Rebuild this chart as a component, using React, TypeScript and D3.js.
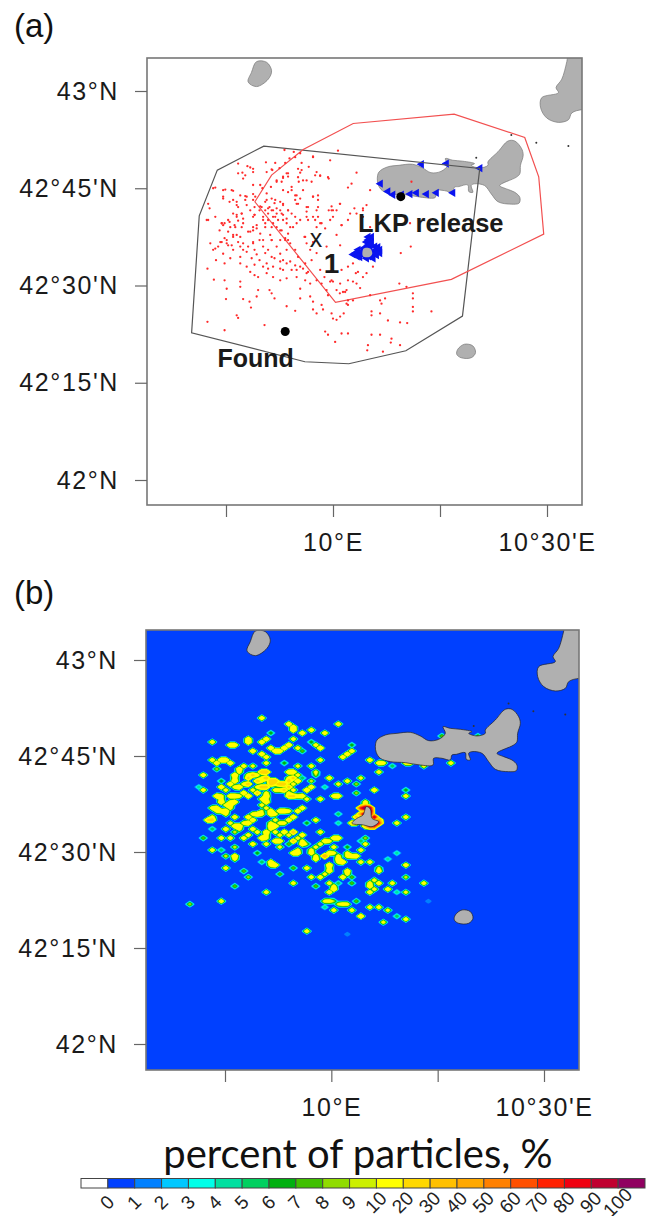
import React, { useEffect, useRef } from 'react';
import * as d3 from 'd3';

// everything geographic is in arc minutes: lon from 10°E, lat from 42°N
const lonTicks = [-15, 0, 15, 30];
const lonLabels = ['', '10°E', '', "10°30'E"];
const latTicks = [0, 15, 30, 45, 60];
const latLabels = ['42°N', "42°15'N", "42°30'N", "42°45'N", '43°N'];

const elba = [[6.21,46.46],[6.44,47.5],[7.62,48.28],[9.26,48.54],[11.14,48.7],[12.55,48.13],[13.73,47.4],[15.14,47.6],[16.08,48.54],[15.75,49.58],[16.78,49.32],[18.2,49.17],[19.84,48.8],[19.37,48.54],[20.55,48.13],[21.72,48.54],[21.72,49.06],[23.13,50.63],[24.54,52.29],[25.48,52.29],[26.42,51.15],[26.66,50.1],[26.28,48.54],[26.19,47.24],[25.72,46.72],[23.37,45.42],[24.31,44.9],[25.48,44.38],[26.19,43.59],[26.09,42.71],[25.01,42.55],[23.13,42.92],[22.19,44.12],[21.25,45.42],[19.84,45.68],[19.37,45.42],[19.61,44.38],[19.04,44.48],[18.9,45.52],[17.63,45.26],[17.02,45.16],[16.78,44.38],[15.61,44.64],[14.43,44.64],[14.34,43.59],[12.55,43.59],[10.44,43.96],[8.32,44.12],[6.91,44.64],[6.35,45.52]];
const capraia = [[-10.72,64.53],[-9.31,64.43],[-8.61,63.13],[-9.08,61.82],[-10.72,60.68],[-11.9,61.41],[-11.43,62.87]];
const mainland = [[33.2,67],[32.78,64.53],[32.07,61.82],[31.27,60.52],[31.6,59.74],[29.25,58.96],[29.11,57.4],[29.96,55.84],[31.6,55.16],[33.01,55.57],[33.48,56.62],[35.04,57.14],[37,57],[37,67]];
const pianosa = [[17.49,20.16],[18.43,20.94],[19.61,20.68],[19.98,19.64],[19.38,18.86],[17.96,18.86],[17.35,19.38]];
const pianosaNorth = [[4.94,37.09],[5.5,36.72],[5.74,35.26],[6.68,34.74],[5.74,33.96],[4.56,34.22],[2.91,34.48],[3.62,35.26],[4.47,35.79]];
const lkpRock = [[4.3,35.7],[5.2,35.7],[5.5,34.9],[5.1,34.4],[4.2,34.5]];
const islands = [elba, capraia, mainland, pianosa];
const rocks = [[25,53.2],[28.5,52],[33,51.5],[20.08,49.7]];

const blackHull = [[-9.69,51.5],[-16.22,47.8],[-18.75,40.75],[-19.82,22.71],[-3.94,18.24],[2.22,17.93],[10.21,19.94],[18.15,25.28],[20.57,48.05]];
const redHull = [[-10.95,42.91],[-8.61,47.02],[-4.18,50.98],[2.83,54.99],[16.98,56.43],[26.88,52.83],[28.84,46.77],[29.54,37.93],[16.6,30.94],[0.35,27.39]];

const lkp = [9.5, 43.7];
const found = [-6.7, 22.9];

const particles = [
[-13.3,48.8],[-12,48.4],[-11.2,48],[-13.3,47.3],[-12.3,47],[-11.2,45.5],[-9.4,49],[-8.5,47.8],[-7.5,48.1],[-6.8,50.9],[-5.3,49.8],[-4.6,50.4],[-2.8,49.9],[-.4,49.3],[.7,50.8],[-4.4,48.9],[-3.4,48.3],[-1.8,47],[-.6,46.5],[-4.6,47.4],[-6.3,47.3],[-7.9,46],[-7,46.6],[-5.8,45.2],[-4.8,46],[-3.7,46.2],[3.3,47.4],[2.6,45.7],[2.1,45.1],[5.2,44.7],[-15.4,44.7],[-14.2,44.7],[-16.5,45.1],[-13,43.9],[-12.1,43.7],[-13.5,42.4],[-17.5,42.6],[-17.3,41.9],[-15.4,43.7],[-14.5,42.9],[-10.2,45.5],[-10.9,43.7],[-9.3,44.2],[-8.6,43.4],[-7,44.7],[-5.3,43.9],[-4.9,42.6],[-2.8,43.7],[-2.1,43.2],[-4.2,44.7],[-2.3,41.6],[-3.5,42.1],[1,42.6],[0,41.6],[-.6,41.6],[4.7,42.4],[4.2,41.6],[3.3,41.1],
[-17.6,24.4],[-15.2,23.1],[-9.6,23.9],[-13.5,25.4],[-13.3,25],[-15,27.9],[-12.6,27.9],[-11.7,27.5],[-11.5,26.6],[-8.2,28],[-6.5,26.8],[-5.3,26.1],[-4.6,28],[-3.2,28.3],[-2.8,27.5],[-2.8,26.3],[-1.6,27],[-1.4,26.3],[-2.3,25.7],[-.2,25.7],[0,24.9],[1,25.2],[1.5,25.7],[.5,24.7],[-1.1,22.9],[-.7,22.4],[1.2,22.6],[2.1,22.6],[.3,21.3],[4.9,20.8],[4.8,20],[5.4,22.4],[6.6,22.4],[8.2,21.8],[9.4,20.8],[7,19.8],[8.1,21.2],
[5.4,25.4],[5.4,26],[6.6,25.7],[7.7,24.6],[9.4,24.3],[10.4,24.2],[11.2,26],[11.2,26.7],[11.2,28],[11.2,28.8],[13.8,26],[6.8,27.2],[6.6,27.7],[7.3,28],[5.2,28.5],[2.8,27.7],[2.1,27.7],[1.9,27.2],[2.1,27],[10.3,29.8],[9.3,30.3],
[1.7,29],[1.9,29.3],[.96,28.8],[-.4,30.6],[0,30.6],[-1.6,30.3],[-.9,29.3],[-.7,28.5],[2.8,30.6],[3.3,30.3],[3.8,29.6],[4.2,31.3],[4.7,31.9],[3.2,31.9],[1.2,32.4],[2.1,32.9],[2.8,33.4],
[9.5,35],[10.9,36],[5.6,32.9],[1,36.2],[-.9,36],[-2.3,35],[-3.2,35.5],[-3,33.9],[-3.9,33.4],[-4.2,32.6],[-3.7,31.9],[-3.5,32.1],[-4.6,32.9],[-5.1,32.4],[-5.3,33.1],[-6,33.7],[-7,32.4],[-7.4,32.6],[-8.4,32.9],[-9.1,32.6],[-9.8,32.9],[-6.5,31.1],[-7.4,30.8],[-8.4,31.3],[-9.3,31.9],[-11,31.6],[-10.5,31.3],[-11.6,32.1],[-15.2,30.8],[-16.7,30.9],[-17.6,32.6],[-16.4,33.9],[-15.2,33.4],[-13,30.6],[-13,29.8],[-14.9,29.5],[-8.9,29.3],[-8.6,28.8],[-10.5,29.3],[-10.7,28.3],[-4.6,29.5],[-3.9,30.8],[-3.2,30.3],[-2.3,30.8],
[-16.8,35.5],[-16.1,36],[-15.6,36.7],[-14.9,36.5],[-15.2,37.3],[-14.2,36.2],[-13.5,37.8],[-13.3,36.7],[-13,36],[-12.6,35.5],[-13,34.4],[-12.1,35.2],[-11.4,34.2],[-11.9,36],[-11.2,36.5],[-11,35.5],[-10.3,37],[-9.8,36],[-9.5,35],[-9.1,35.5],[-8.6,34.4],[-7.9,36],[-7.4,34.9],[-7,33.9],[-6.5,35.5],[-8.6,37],[-7.4,37],[-6.7,37],[-6,36.5],[-5.3,35.5],[-4.9,34.4],[-3.7,36.5],[-11.2,38.5],[-10.7,39.3],[-11.9,38.3],[-12.8,39],[-13.3,40],[-12.6,40.3],[-13.8,39.3],[-14.5,39.8],[-15.2,39.6],[-15.6,39.6],[-15.9,38.5],[-14.7,38.3],[-14,37.5],[-9.5,39.6],[-9.1,40.1],[-8.4,40.6],[-7.7,40.1],[-7,40.9],[-6.5,40.3],[-5.8,41.1],[-8.6,39],[-7.9,39],[-7.2,38.5],[-6.3,38],[-6.5,39.6],[-5.6,39],[-4.6,40.1],[-3.7,40.6],[-2.5,40.1],[-2.3,39],[-3.9,37.5],[-2.8,36.7],[-9.8,40.6],[-10.3,41.6],[-11,40.9],[-11.6,41.6],[-12.1,42.4],[-12.8,41.1],[-13.5,40.9],[-14,41.1],[-13.3,42.1],[-8.9,42.1],[-8.2,42.7],[-7.4,41.6],[-7,42.4],[-6.3,41.6],[-9.5,42.9],[-10,42.1],[-8.4,41.6],[-9.1,41.1],[-7.9,41.1],[-17.5,40.1],[-16.5,40.6],
[1.2,39.3],[2.1,40.1],[-.4,40.1],[-1.6,39.6],[.5,37.8],[5.2,39],[10.8,39.6],[11,46],
[-12.7,47.4],[-11.6,48.2],[-11.2,47.5],[-12.6,46.5],[-9.3,47.5],[-8.6,47.9],[-8.1,48.9],[-6.7,48.9],[-6.1,49.6],[-5.5,50.6],[-2.8,49.8],[-4.9,48],[-4.4,47.8],[-2.3,47.5],[-2.5,47],[-1.8,46.9],[-.7,46.7],[-3,46],[-4.2,46.2],[-4.9,46.7],[-6.5,47.3],[-7,46.8],[-7.2,46],[-6.3,46.8],[-7.9,46.2],[-8.7,45.2],[-9.9,45],[-11.2,44.1],[-12.3,43.8],[-14,44.6],[-15.1,44.8],[-15.4,43.4],[-16.8,45],[-14,43.2],[-13.5,42.9],[-12.3,43.2],[-11.2,43.2],[-11,42.1],[-10.2,42.2],[-9.3,43.2],[-8.1,43.2],[-7.4,42.9],[-7,42.6],[-6.3,44.4],[-5.8,44.7],[-5.1,43.9],[-4.6,43.4],[-5.3,43.2],[-5.1,42.6],[-2.8,43.7],[-2.1,43.9],[-3.7,42.1],[-2.1,42.1],[-.2,42.2],[.96,42.6],[.5,41.6],[3,41.9],[4.2,41.9],
[-12.8,41.1],[-13.5,40.6],[-14.7,40.1],[-15.6,39.6],[-15.4,39.3],[-13.7,39],[-11.2,40.6],[-11,40.9],[-9.5,41.6],[-9.1,41.9],[-8.6,41.6],[-7.9,41.9],[-7.2,41.1],[-6.3,41.6],[-5.3,40.6],[-7,40.1],[-8.1,40.6],[-8.4,39.6],[-9.8,40.1],[-11.2,39],[-10.7,38.8],[-9.5,39],[-8.8,37.8],[-10.2,38],[-11.6,38.3],[-13,37.5],[-14,37.8],[-14.9,37],[-15.8,36.7],[-17.2,36.5],[-16.5,35.7],[-14.7,36.2],[-12.6,36.5],[-11.2,36.7],[-9.8,37],[-8.6,37],[-6.7,37.3],[-6.3,37],[-7.4,38.5],[-6,39],[-5.1,39.6],[-3.5,40.1],[-1.8,39.6],[0,40.6],[1.2,39.3],[2.4,41.1],[4.2,40.6],[-4,37.5],[-1.1,38.8],[-17.7,40.1],[-12.6,39.6],[-14.4,39],[-3.7,41.4],[-2.8,40.6],[-2.1,40.6],[-.2,41.6],
[-13,33.4],[-12.1,32.9],[-11,33.2],[-10.3,33.9],[-9.3,33.4],[-8.2,34.2],[-6.5,33.4],[-5.8,32.4],[-7.4,33.7],[-5.1,31.3],[-10.7,34.8],[-14.4,34.2],[-15.4,34.9],[-14,35.5],[-1.8,32.4],[-1.2,31.3],[1,30.3],[2.1,30.8],[1.4,29],[3.5,32.1],[-.2,30.8],[.5,29.3],
];

// stranded particles, drawn as small blue triangles
const stranded = [
[4.93,37.5],[5.4,37.5],[4.7,36.7],[5.4,36.7],[5.16,36],[5.86,36],[6.56,35.5],[6.1,34.7],[5.63,34.2],[4.7,34.2],[3.76,34.4],[2.83,34.8],[3.53,35.5],[4.23,35.7],[6.56,35],[4.93,37],[5.63,35.2],[4.4,34.6],[3.2,35],[4.9,36.2],[5.2,35.5],[4.5,35.2],[3.9,35],[5,34.5],[6,35.4],[5.5,34.6],[5.1,37.1],[5.3,36.4],[4.7,35.8],[4.1,35.2],[5.9,34.9],[6.3,35.9],[3.4,34.5],[4.9,34.8],
[6.65,45.7],[7.7,44.5],[8.4,44],[9.6,44],[10.8,44.1],[11.7,44.3],[13.1,44.1],[14.5,44.3],[16.8,44.3],[12.4,48.7],[15.9,48.8],[20.6,48.1],
];

// gridded percent field of panel b: [col, row, percent]
const gridCols = 100;
const gridRows = 110;
const gridLon0 = -26.95;
const gridLat0 = 65.47;
const gridDLon = 0.635;
const gridDLat = -0.469;
const cells = [
[27,31,16],[44,33,16],[33,33,18],[34,34,18],[34,35,20],[36,36,18],[38,35,16],[41,36,16],[29,36,7],[16,39,15],[20,40,18],[21,40,18],[24,38,18],[24,39,20],[27,39,18],[28,38,18],[34,38,14],[47,40,7],[45,44,16],[46,43,18],[47,42,16],[51,45,16],[53,46,16],[54,46,14],[40,45,14],[16,45,15],
[17,46,18],[18,45,20],[19,45,20],[20,46,18],[22,48,18],[23,47,15],[25,47,12],[28,46,14],[32,46,7],[35,47,12],[25,42,18],[27,43,18],[28,44,16],[29,41,18],[30,42,20],[31,42,18],[32,41,20],[33,40,20],[35,41,14],[36,42,8],[38,39,7],[39,40,14],[40,41,20],
[25,50,22],[27,49,28],[28,49,30],[28,51,26],[26,52,24],[24,51,22],[30,52,30],[31,53,28],[33,52,26],[34,49,20],[35,52,20],[33,49,18],[21,50,20],[21,52,20],[20,53,18],[18,54,18],[22,54,20],[24,53,24],[27,54,24],[28,54,24],[28,57,20],[28,59,20],[33,54,24],[33,57,20],[34,57,22],[36,57,18],[17,57,20],[18,59,20],[20,57,18],[21,57,18],[23,56,20],[24,57,20],[26,56,22],[29,52,30],[29,53,24],[32,53,26],[34,51,22],[32,55,22],[30,55,14],
[17,61,18],[19,62,20],[20,60,18],[21,59,18],[16,65,24],[15,65,20],[21,64,16],[24,64,18],[26,63,20],[29,62,20],[29,63,18],[31,62,18],[32,62,18],[36,61,18],[35,62,18],[34,64,20],[33,65,18],[30,67,20],[29,67,18],[28,69,20],[27,71,20],[22,67,20],[21,67,18],[24,66,20],[19,68,16],[21,69,10],[18,71,15],[14,71,8],[16,68,6],[23,71,15],[32,69,20],[34,69,28],[36,70,18],[30,69,14],[40,69,15],[37,66,7],[39,65,15],[44,63,6],[44,66,5],[25,65,18],[18,62,16],[16,61,14],[27,62,10],[25,68,16],[26,69,14],[24,70,15],[20,71,14],
[38,54,18],[37,55,20],[40,58,16],[44,57,18],[43,57,16],[48,53,9],[48,56,9],[52,55,18],[59,55,7],[59,57,14],[50,59,14],[46,52,14],[44,53,13],[42,51,16],[41,54,5],[49,51,12],[53,49,14],[38,47,14],[39,49,12],[39,50,8],[38,52,10],[36,51,6],[14,50,16],[17,48,9],[13,54,5],[14,55,14],[18,52,7],[57,66,14],[59,64,14],
[30,72,18],[31,72,18],[28,73,14],[25,73,16],[21,74,10],[31,74,12],[33,73,8],[34,72,22],[36,73,18],[37,73,8],[40,73,14],[41,72,18],[43,71,18],[44,71,18],[43,74,14],[46,74,7],[47,77,16],[48,77,18],[49,75,14],[50,73,14],[50,71,9],[49,72,6],[16,75,14],[18,75,6],[19,77,10],[21,77,20],[26,76,7],
[34,76,18],[35,76,18],[38,76,16],[39,78,18],[41,77,40],[42,76,18],[44,78,18],[45,79,20],[49,79,14],[51,79,14],[27,79,6],[29,79,18],[30,80,18],[34,81,8],[37,81,15],[42,80,20],[42,82,18],[19,81,14],[23,82,8],[24,84,9],[31,83,8],[40,84,16],[38,84,14],[46,82,18],[45,84,18],[47,84,8],[53,81,10],[55,78,5],[57,76,5],[59,80,16],[53,82,16],
[34,86,14],[21,87,8],[28,89,14],[18,92,14],[11,93,9],[42,86,14],[44,86,6],[39,87,8],[43,88,20],[42,89,16],[47,86,8],[51,86,14],[53,86,16],[51,87,18],[51,89,16],[56,86,14],[55,88,16],[59,84,10],[63,86,14],[57,89,5],[59,89,12],
[41,92,12],[43,92,8],[44,93,10],[46,93,12],[48,92,8],[41,94,5],[43,95,14],[47,95,14],[51,94,14],[53,94,14],[55,95,12],[57,97,6],[59,98,14],[54,99,12],[49,97,20],[37,102,14],[64,92,2],[46,103,2],
[60,46,14],[59,46,14],[63,47,12],[69,46,14],[56,47,6],[67,37,8],[75,37,7],
[50,60,16],[49,61,70],[50,61,110],[51,61,90],[51,62,110],[51,63,90],[52,64,90],[53,65,40],[53,66,70],[52,66,110],[52,67,70],[51,67,70],[50,67,22],[50,65,110],[49,63,40],[48,64,24],[47,66,20],[48,66,16],[50,63,110],
];

// weaker cells that join the blobs up into the yellow network
const joinCells = [[22,49],[24,50],[26,50],[27,51],[27,52],[23,53],[21,51],[21,54],[19,55],[18,57],[18,58],[19,60],[20,59],[20,61],[22,57],[25,55],[26,54],[28,56],[27,58],[28,58],[27,60],[28,61],[30,53],[31,55],[34,53],[34,55],[33,56],[35,50],[33,51],[35,57],[37,58],[30,63],[33,62],[32,66],[31,66],[30,65],[29,66],[29,68],[28,70],[28,71],[23,66],[25,63],[27,63],[20,66],[19,63],[17,62],[16,64],[22,68],[31,70],[33,70],[35,71],[36,72],[42,72],[39,74],[38,75],[39,77],[43,76],[44,77],[46,76],[46,77],[35,75],[44,79],[29,80],[42,81],[41,83],[46,83],[52,85],[52,88],[43,87],[45,93],[42,92],[21,78]];

const levels = [1, 2, 3, 4, 5, 6, 7, 8, 9, 10, 20, 30, 40, 50, 60, 70, 80, 90, 100];
const barLabels = [0, ...levels];
const barColors = ['#ffffff', '#0040ff', '#0080ff', '#00c8ff', '#00ffe8', '#00e0a0', '#00d060', '#00b010', '#40c000', '#90dc00', '#ccf000', '#ffff00', '#ffd800', '#ffc000', '#ffa800', '#ff8000', '#ff5000', '#ff2000', '#f00010', '#c00030', '#900060'];

const sans = '"Liberation Sans", Arial, sans-serif';

type Frame = { left: number; right: number; top: number; bottom: number; lonRange: number[]; latRange: number[] };

const frameA: Frame = { left: 147, right: 582, top: 58, bottom: 505, lonRange: [226, 547], latRange: [480, 91] };
const frameB: Frame = { left: 146, right: 579, top: 630, bottom: 1070, lonRange: [225, 544], latRange: [1044, 660] };

function scalesFor(f: Frame) {
  const x = d3.scaleLinear().domain([-15, 30]).range(f.lonRange);
  const y = d3.scaleLinear().domain([0, 60]).range(f.latRange);
  return { x, y };
}

function Axes({ frame }: { frame: Frame }) {
  const left = useRef<SVGGElement>(null);
  const bottom = useRef<SVGGElement>(null);

  useEffect(() => {
    const { x, y } = scalesFor(frame);
    const style = (g: any) => {
      g.select('.domain').remove();
      g.selectAll('line').attr('stroke', '#666').attr('stroke-width', 1.2);
      g.selectAll('text').attr('fill', '#1a1a1a').style('font-family', sans).style('font-size', '25px').style('letter-spacing', '1.6px');
    };
    d3.select(left.current)
      .call(d3.axisLeft(y).tickValues(latTicks).tickSize(12).tickPadding(16).tickFormat((d: any) => latLabels[latTicks.indexOf(d)]) as any)
      .call(style);
    d3.select(bottom.current)
      .call(d3.axisBottom(x).tickValues(lonTicks).tickSize(12).tickPadding(16).tickFormat((d: any) => lonLabels[lonTicks.indexOf(d)]) as any)
      .call(style);
  }, [frame]);

  return (
    <>
      <g ref={left} transform={`translate(${frame.left},0)`} />
      <g ref={bottom} transform={`translate(0,${frame.bottom})`} />
    </>
  );
}

function Land({ frame, outline }: { frame: Frame; outline: string }) {
  const { x, y } = scalesFor(frame);
  const line = d3.line().x((d: any) => x(d[0])).y((d: any) => y(d[1])).curve(d3.curveCatmullRomClosed.alpha(0.5));
  return (
    <g fill="#b0b0b0" stroke={outline} strokeWidth={0.7}>
      {islands.map((p, i) => <path key={i} d={line(p as any) || ''} />)}
      {rocks.map((r, i) => <circle key={i} cx={x(r[0])} cy={y(r[1])} r={1} fill="#333" stroke="none" />)}
    </g>
  );
}

function PanelA() {
  const f = frameA;
  const { x, y } = scalesFor(f);
  const hull = d3.line().x((d: any) => x(d[0])).y((d: any) => y(d[1])).curve(d3.curveLinearClosed);
  const tri = d3.symbol().type(d3.symbolTriangle).size(30)();
  const small = d3.line().x((d: any) => x(d[0])).y((d: any) => y(d[1])).curve(d3.curveCatmullRomClosed.alpha(0.5));
  return (
    <g>
      <clipPath id="clipA"><rect x={f.left} y={f.top} width={f.right - f.left} height={f.bottom - f.top} /></clipPath>
      <g clipPath="url(#clipA)">
        <Land frame={f} outline="#777" />
        {stranded.map((d, i) => (
          <path key={i} d={tri || ''} fill="#0a14f0" transform={`translate(${x(d[0])},${y(d[1])}) rotate(-90)`} />
        ))}
        <path d={small(lkpRock as any) || ''} fill="#b0b0b0" />
        <path d={hull(blackHull as any) || ''} fill="none" stroke="#555" strokeWidth={1.2} />
        <path d={hull(redHull as any) || ''} fill="none" stroke="#f25050" strokeWidth={1.2} />
        {particles.map((d, i) => <circle key={i} cx={x(d[0])} cy={y(d[1])} r={1.15} fill="#ff2a2a" />)}
      </g>
      <rect x={f.left} y={f.top} width={f.right - f.left} height={f.bottom - f.top} fill="none" stroke="#777" strokeWidth={1.6} />
      <Axes frame={f} />
      <circle cx={x(lkp[0])} cy={y(lkp[1])} r={4.5} fill="#000" />
      <circle cx={x(found[0])} cy={y(found[1])} r={4.5} fill="#000" />
      <g fontFamily={sans} fontWeight="bold" fill="#1a1a1a">
        <text x={x(3.5)} y={232} fontSize={25.5}>LKP release</text>
        <text x={x(-16.2)} y={367} fontSize={25}>Found</text>
        <text x={x(-0.2)} y={y(32)} fontSize={28} textAnchor="middle">1</text>
        <text x={x(-2.4)} y={y(35.9)} fontSize={25} fontWeight="normal" textAnchor="middle">x</text>
      </g>
    </g>
  );
}

function PanelB() {
  const f = frameB;
  const { x, y } = scalesFor(f);
  const values = new Array(gridCols * gridRows).fill(0);
  joinCells.forEach(([c, r]) => { values[c + r * gridCols] = 13; });
  cells.forEach(([c, r, v]) => { values[c + r * gridCols] = Math.max(values[c + r * gridCols], v); });
  const contours = d3.contours().size([gridCols, gridRows]).thresholds(levels)(values);
  const project = d3.geoTransform({
    point(cx: number, cy: number) {
      (this as any).stream.point(x(gridLon0 + (cx - 0.5) * gridDLon), y(gridLat0 + (cy - 0.5) * gridDLat));
    },
  });
  const path = d3.geoPath(project);
  const small = d3.line().x((d: any) => x(d[0])).y((d: any) => y(d[1])).curve(d3.curveCatmullRomClosed.alpha(0.5));
  return (
    <g>
      <clipPath id="clipB"><rect x={f.left} y={f.top} width={f.right - f.left} height={f.bottom - f.top} /></clipPath>
      <filter id="soft"><feGaussianBlur stdDeviation="0.5" /></filter>
      <g clipPath="url(#clipB)">
        <rect x={f.left} y={f.top} width={f.right - f.left} height={f.bottom - f.top} fill={barColors[1]} />
        <g filter="url(#soft)">
          {contours.map((c, i) => (
            <path key={i} d={path(c as any) || ''} fill={barColors[i + 2]} stroke={barColors[i + 2]} strokeWidth={1.8} strokeLinejoin="round" />
          ))}
        </g>
        <Land frame={f} outline="#222" />
        <path d={small(pianosaNorth as any) || ''} fill="#b0b0b0" stroke="#222" strokeWidth={0.7} />
      </g>
      <rect x={f.left} y={f.top} width={f.right - f.left} height={f.bottom - f.top} fill="none" stroke="#777" strokeWidth={1.6} />
      <Axes frame={f} />
    </g>
  );
}

function ColorBar() {
  const left = 81;
  const right = 645;
  const top = 1178.5;
  const height = 9.5;
  const bx = d3.scaleLinear().domain([0, barColors.length]).range([left, right]);
  return (
    <g>
      {barColors.map((c, i) => (
        <rect key={i} x={bx(i)} y={top} width={bx(i + 1) - bx(i)} height={height} fill={c} stroke="#444" strokeWidth={1} />
      ))}
      {barLabels.map((l, i) => (
        <text key={i} transform={`translate(${bx(i + 1) + 4},${1207}) rotate(-45)`} textAnchor="middle"
          fontFamily={sans} fontSize={19} fill="#222">{l}</text>
      ))}
    </g>
  );
}

export default function App() {
  return (
    <svg width={652} height={1216} style={{ position: 'absolute', left: 0, top: 0, display: 'block' }}>
      <rect width={652} height={1216} fill="#fff" />
      <text x={14} y={37} fontFamily={sans} fontSize={33} fill="#111">(a)</text>
      <text x={14} y={604} fontFamily={sans} fontSize={33} fill="#111">(b)</text>
      <PanelA />
      <PanelB />
      <text x={358} y={1168} textAnchor="middle" fontFamily="Lato, sans-serif" fontSize={40} fill="#111">percent of particles, %</text>
      <ColorBar />
    </svg>
  );
}
